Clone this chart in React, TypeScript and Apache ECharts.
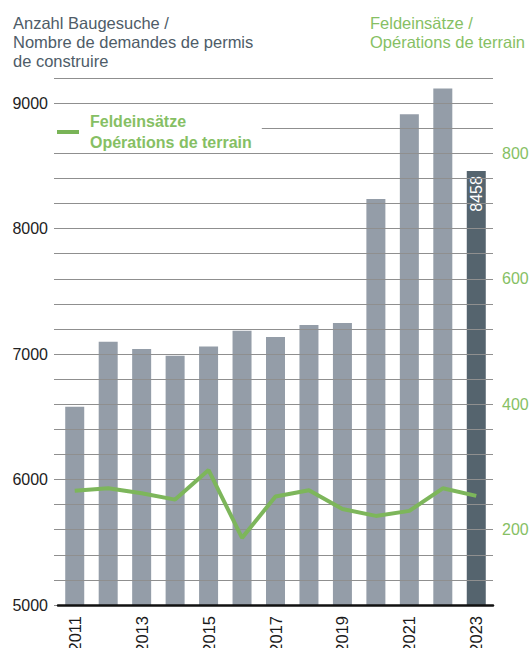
import React, { useEffect, useRef } from "react";
import * as echarts from "echarts";

const years = ["2011","2012","2013","2014","2015","2016","2017","2018","2019","2020","2021","2022","2023"];
const baugesuche = [6580, 7098, 7040, 6986, 7061, 7186, 7135, 7231, 7247, 8235, 8912, 9117, 8458];
const feldeinsaetze = [262, 266, 258, 248, 295, 187, 253, 263, 233, 222, 230, 266, 254];
const leftTitle = "Anzahl Baugesuche /\nNombre de demandes de permis\nde construire";
const rightTitle = "Feldeinsätze /\nOpérations de terrain";
const lineName = "Feldeinsätze\nOpérations de terrain";

const FONT = "'Liberation Sans', Arial, Helvetica, sans-serif";
const GREEN = "#86bf64";
const GRAY_BAR = "#949da8";
const DARK_BAR = "#55646e";

export default function App() {
  const ref = useRef<HTMLDivElement>(null);
  useEffect(() => {
    if (!ref.current) return;
    const chart = echarts.init(ref.current, undefined, { renderer: "svg" });
    chart.setOption({
      animation: false,
      textStyle: { fontFamily: FONT },
      title: [
        {
          text: leftTitle,
          left: 8,
          top: 8,
          textStyle: { fontFamily: FONT, fontSize: 16.5, fontWeight: "normal", color: "#4e5c68", lineHeight: 19.3 },
        },
        {
          text: rightTitle,
          left: 365,
          top: 8,
          textStyle: { fontFamily: FONT, fontSize: 16.5, fontWeight: "normal", color: GREEN, lineHeight: 19.3 },
        },
      ],
      legend: {
        data: [{ name: lineName, icon: "rect", itemStyle: { color: "#79b457" } }],
        left: 53,
        top: 107,
        padding: [4, 10, 0, 4],
        backgroundColor: "#ffffff",
        itemWidth: 22,
        itemHeight: 4,
        z: 10,
        selectedMode: false,
        textStyle: {
          fontFamily: FONT,
          fontSize: 16,
          fontWeight: "bold",
          color: GREEN,
          lineHeight: 21,
          padding: [0, 0, 0, 6],
        },
      },
      grid: {
        left: 58,
        top: 78,
        width: 435,
        height: 527,
        containLabel: false,
        outerBoundsMode: "none",
      },
      xAxis: {
        type: "category",
        data: years,
        z: 5,
        axisLine: { show: true, onZero: false, lineStyle: { color: "#111111", width: 2.5 } },
        axisTick: { show: false },
        axisLabel: {
          rotate: 90,
          interval: 1,
          margin: 11,
          fontSize: 16.5,
          color: "#1a1a1a",
          fontFamily: FONT,
        },
      },
      yAxis: [
        {
          type: "value",
          min: 5000,
          max: 9200,
          interval: 200,
          z: 3,
          axisLine: { show: false },
          axisTick: { show: true, length: 4, lineStyle: { color: "#8f8f8f" } },
          splitLine: { show: true, lineStyle: { color: "#8f8f8f", width: 1 } },
          axisLabel: {
            margin: 10,
            fontSize: 16,
            color: "#222222",
            fontFamily: FONT,
            formatter: (v: number) => (v % 1000 === 0 ? String(v) : ""),
          },
        },
        {
          type: "value",
          min: 80,
          max: 920,
          interval: 40,
          position: "right",
          axisLine: { show: false },
          axisTick: { show: false },
          splitLine: { show: false },
          axisLabel: {
            margin: 9,
            fontSize: 16,
            color: GREEN,
            fontFamily: FONT,
            formatter: (v: number) => (v % 200 === 0 ? String(v) : ""),
          },
        },
      ],
      series: [
        {
          type: "bar",
          name: "Baugesuche",
          yAxisIndex: 0,
          barWidth: 19,
          z: 2,
          data: baugesuche.map((v, i) => ({
            value: v,
            itemStyle: { color: i === baugesuche.length - 1 ? DARK_BAR : GRAY_BAR },
            label:
              i === baugesuche.length - 1
                ? {
                    show: true,
                    position: "insideTop",
                    rotate: 90,
                    align: "right",
                    verticalAlign: "middle",
                    distance: 5,
                    color: "#ffffff",
                    fontSize: 16,
                    fontFamily: FONT,
                  }
                : { show: false },
          })),
        },
        {
          type: "line",
          name: lineName,
          yAxisIndex: 1,
          z: 6,
          data: feldeinsaetze,
          symbol: "none",
          lineStyle: { color: "#7db65b", width: 4 },
          itemStyle: { color: "#7db65b" },
        },
      ],
    });
    return () => chart.dispose();
  }, []);
  return (
    <div
      ref={ref}
      style={{ position: "fixed", left: 0, top: 0, width: 530, height: 648, background: "#ffffff" }}
    />
  );
}
